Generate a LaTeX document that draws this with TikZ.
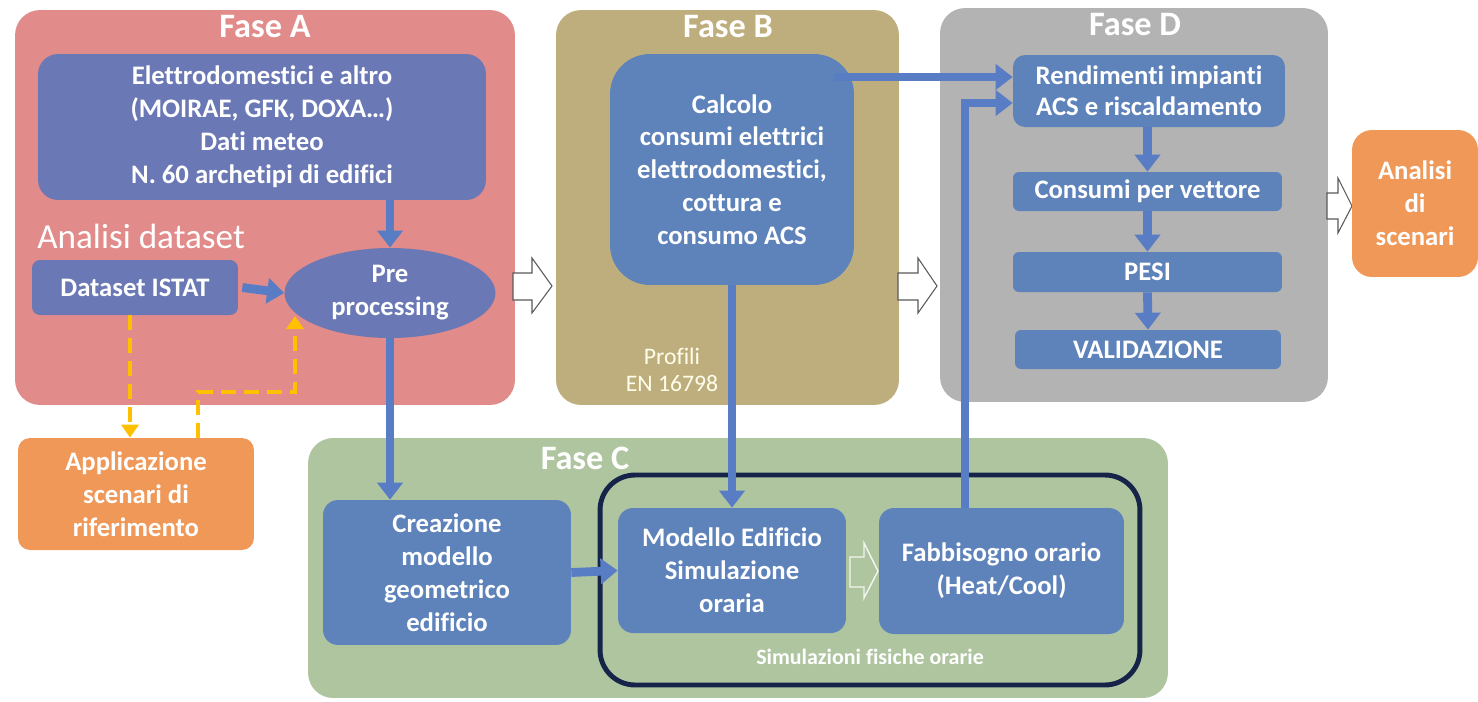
\documentclass[tikz,border=0pt]{standalone}
\usepackage{fontspec}
\setmainfont{Carlito}[Ligatures=NoCommon]
\usetikzlibrary{arrows.meta,shapes.geometric}

\definecolor{faseAbg}{RGB}{226,139,139}
\definecolor{faseBbg}{RGB}{191,174,125}
\definecolor{faseCbg}{RGB}{174,197,160}
\definecolor{faseDbg}{RGB}{179,179,179}
\definecolor{violetbox}{RGB}{106,120,181}
\definecolor{bluebox}{RGB}{94,130,186}
\definecolor{orangebox}{RGB}{240,152,88}
\definecolor{flowblue}{RGB}{88,125,196}
\definecolor{hintyellow}{RGB}{255,192,0}
\definecolor{navy}{RGB}{22,36,74}

\begin{document}
\begin{tikzpicture}[x=0.02cm, y=-0.02cm,
    fase/.style={rounded corners=0.5cm, inner sep=0pt},
    title/.style={text=white, font=\bfseries\fontsize{19.5}{21}\selectfont},
    box/.style={rounded corners=0.3cm, fill=bluebox, text=white, align=center,
      inner sep=0pt, font=\bfseries\fontsize{15.2}{18.7}\selectfont},
    flow/.style={line width=5pt, draw=flowblue, -{Triangle[width=0.5cm, length=0.34cm]}},
    hint/.style={line width=2.3pt, draw=hintyellow, dash pattern=on 0.3cm off 0.16cm,
      -{Triangle[width=0.34cm, length=0.26cm]}},
    blockarrow/.style={draw=gray!70!black, fill=white, line width=0.6pt}]

  \useasboundingbox (0,0) rectangle (1478,701);

  % Phase backgrounds
  \node[fase, fill=faseAbg, minimum width=10cm, minimum height=7.9cm] (faseA) at (265,207.5) {};
  \node[fase, fill=faseBbg, minimum width=6.86cm, minimum height=7.9cm] (faseB) at (727.5,207.5) {};
  \node[fase, fill=faseDbg, minimum width=7.76cm, minimum height=7.88cm] (faseD) at (1134,205) {};
  \node[fase, fill=faseCbg, minimum width=17.2cm, minimum height=5.2cm] (faseC) at (738,568) {};

  \node[title] (titleA) at (265,27) {Fase A};
  \node[title] (titleB) at (728,27) {Fase B};
  \node[title] (titleD) at (1135,25) {Fase D};
  \node[title] (titleC) at (585,458) {Fase C};

  % Phase-to-phase block arrows
  \draw[blockarrow] (513,273) -- (532,273) -- (532,258) -- (552,286) -- (532,313) -- (532,300) -- (513,300) -- cycle;
  \draw[blockarrow] (898,273) -- (918,273) -- (918,258) -- (937,286) -- (918,313) -- (918,300) -- (898,300) -- cycle;
  \draw[blockarrow] (1327,193) -- (1338,193) -- (1338,178) -- (1352,206) -- (1338,233) -- (1338,219) -- (1327,219) -- cycle;

  % Fase A
  \node[box, fill=violetbox, rounded corners=0.4cm, minimum width=8.96cm, minimum height=2.92cm] (meteo) at (262,127)
    {Elettrodomestici e altro\\(MOIRAE, GFK, DOXA…)\\Dati meteo\\N. 60 archetipi di edifici};
  \node[anchor=base west, inner sep=0pt, text=white, font=\fontsize{20}{22}\selectfont] (anlabel) at (37,248) {Analisi dataset};
  \node[box, fill=violetbox, rounded corners=0.16cm, minimum width=4.12cm, minimum height=1.1cm] (istat) at (135,287.5) {Dataset ISTAT};
  \node[box, ellipse, fill=violetbox, minimum width=4.22cm, minimum height=1.8cm] (prep) at (390,293) {Pre\\processing};
  \node[box, fill=orangebox, rounded corners=0.24cm, minimum width=4.72cm, minimum height=2.24cm] (appl) at (136,494)
    {Applicazione\\scenari di\\riferimento};

  % Fase B
  \node[box, rounded corners=0.8cm, minimum width=4.88cm, minimum height=4.62cm] (calc) at (732,169.5)
    {Calcolo\\consumi elettrici\\elettrodomestici,\\cottura e\\consumo ACS};
  \node[text=white!92!yellow, align=center, font=\fontsize{13.5}{15.3}\selectfont] (profili) at (672,370) {Profili\\EN 16798};

  % Fase D
  \node[box, rounded corners=0.24cm, minimum width=5.44cm, minimum height=1.44cm, font=\bfseries\fontsize{15.2}{17.5}\selectfont] (rend) at (1149,91)
    {Rendimenti impianti\\ACS e riscaldamento};
  \node[box, rounded corners=0.12cm, minimum width=5.38cm, minimum height=0.78cm] (cons) at (1147.5,191.5) {Consumi per vettore};
  \node[box, rounded corners=0.12cm, minimum width=5.38cm, minimum height=0.8cm] (pesi) at (1147.5,272) {PESI};
  \node[box, rounded corners=0.12cm, minimum width=5.32cm, minimum height=0.78cm] (valid) at (1148,349.5) {VALIDAZIONE};
  \node[box, fill=orangebox, rounded corners=0.4cm, minimum width=2.52cm, minimum height=2.94cm] (scen) at (1415,203.5)
    {Analisi\\di\\scenari};

  % Fase C
  \node[box, minimum width=4.96cm, minimum height=2.9cm] (crea) at (447,572.5)
    {Creazione\\modello\\geometrico\\edificio};
  \node[draw=navy, line width=2.8pt, rounded corners=0.7cm, minimum width=10.8cm, minimum height=4.2cm] (simbox) at (870,580) {};
  \node[box, minimum width=4.56cm, minimum height=2.5cm] (model) at (732,570.5)
    {Modello Edificio\\Simulazione\\oraria};
  \node[box, minimum width=4.9cm, minimum height=2.52cm] (fabb) at (1001.5,571)
    {Fabbisogno orario\\(Heat/Cool)};
  \node[text=white, font=\bfseries\fontsize{12.5}{14}\selectfont] (simlabel) at (870,657) {Simulazioni fisiche orarie};
  \draw[draw=white!85!faseCbg, line width=0.8pt] (850,557) -- (864,557) -- (864,543) -- (878,571) -- (864,598) -- (864,587) -- (850,587) -- cycle;

  % Flow connectors
  \draw[flow] (prep.north |- meteo.south) -- (prep.north);
  \draw[flow] ([xshift=0.08cm]istat.east) -- (prep.west);
  \draw[flow] (prep.south) -- (prep.south |- crea.north);
  \draw[flow] (crea.east) -- (model.west);
  \draw[flow] (calc.south -| model.north) -- (model.north);
  \coordinate (rendtop) at ([yshift=0.28cm]rend.west);
  \coordinate (rendlow) at ([yshift=-0.24cm]rend.west);
  \coordinate (calcout) at ([xshift=-0.38cm]calc.east);
  \draw[flow] (calcout |- rendtop) -- (rendtop);
  \draw[flow] ([xshift=-0.73cm]fabb.north) |- (rendlow);
  \draw[flow] (rend.south -| cons.north) -- (cons.north);
  \draw[flow] (cons.south) -- (pesi.north);
  \draw[flow] (pesi.south) -- (valid.north);

  % Scenario hints
  \draw[hint] ([xshift=-0.1cm]istat.south) -- ([xshift=-0.1cm]istat.south |- appl.north);
  \coordinate (applout) at ([xshift=1.24cm]appl.north);
  \coordinate (prepin) at (295,316);
  \draw[hint] (applout) -- ++(0,-46) -| (prepin);
\end{tikzpicture}
\end{document}
